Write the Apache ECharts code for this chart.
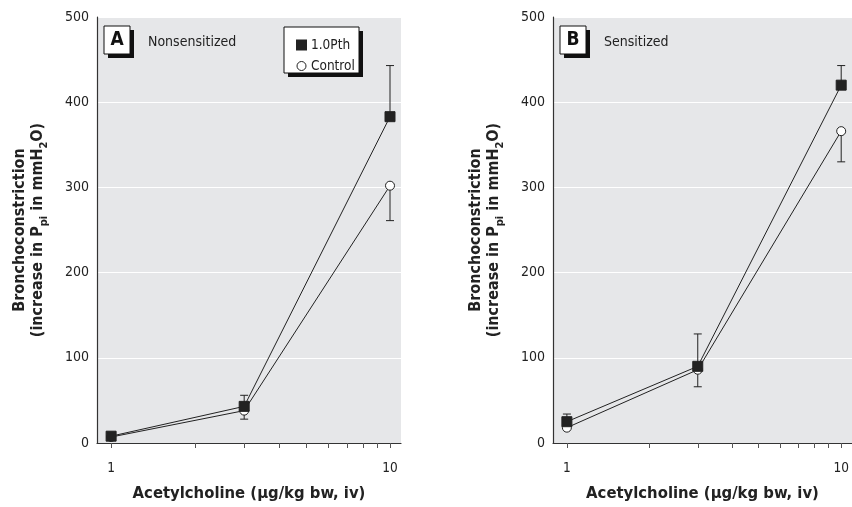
<!DOCTYPE html>
<html>
<head>
<meta charset="utf-8">
<script src="https://cdn.jsdelivr.net/npm/echarts@6/dist/echarts.min.js"></script>
<style>
  html, body { margin: 0; padding: 0; background: #fff; }
  #main { width: 852px; height: 507px; }
</style>
</head>
<body>
<div id="main"></div>
<script>
// dose (log axis)
var doses = [1, 3, 10];
var xLabelTicks = [1, 10];
var xMinorTicks = [1, 2, 3, 4, 5, 6, 7, 8, 9, 10];

// A: nonsensitized
var pthA = [8, 43, 383];
var pthAErrTop = [null, 56, 443];
var ctrlA = [7, 38, 302];
var ctrlAErrLow = [null, 28, 261];

// B: sensitized
var pthB = [25, 90, 420];
var pthBErrTop = [34, 128, 443];
var ctrlB = [18, 86, 366];
var ctrlBErrLow = [null, 66, 330];

var FONT = '"DejaVu Sans Condensed", "Liberation Sans Narrow", sans-serif';
var INK = '#222';

function pairs(vals) {
  var out = [];
  for (var i = 0; i < doses.length; i++) out.push([doses[i], vals[i]]);
  return out;
}
function errData(vals, ends) {
  var out = [];
  for (var i = 0; i < doses.length; i++) {
    if (ends[i] != null) out.push([doses[i], vals[i], ends[i]]);
  }
  return out;
}
// one-sided error bar with a small cap
function errRender(params, api) {
  var x = api.value(0);
  var p0 = api.coord([x, api.value(1)]);
  var p1 = api.coord([x, api.value(2)]);
  return {
    type: 'group',
    children: [
      { type: 'line', shape: { x1: p0[0], y1: p0[1], x2: p1[0], y2: p1[1] }, style: { stroke: INK, lineWidth: 1 } },
      { type: 'line', shape: { x1: p1[0] - 4, y1: p1[1], x2: p1[0] + 4, y2: p1[1] }, style: { stroke: INK, lineWidth: 1 } }
    ]
  };
}

function xAxis(idx) {
  return {
    type: 'log', logBase: 10, gridIndex: idx, min: 0.89, max: 10.95,
    name: 'Acetylcholine (\u03bcg/kg bw, iv)', nameLocation: 'middle', nameGap: 42,
    nameTextStyle: { fontFamily: FONT, fontSize: 16.5, fontWeight: 'bold', color: INK },
    axisLine: { lineStyle: { color: '#333', width: 1.2 } },
    axisTick: { show: true, inside: false, length: 5, customValues: xMinorTicks, lineStyle: { color: '#555' } },
    axisLabel: { customValues: xLabelTicks, margin: 18, fontFamily: FONT, fontSize: 13.5, color: INK },
    splitLine: { show: false },
    minorTick: { show: false }
  };
}
function yAxis(idx) {
  return {
    type: 'value', gridIndex: idx, min: 0, max: 500, interval: 100,
    name: '{b|Bronchoconstriction}\n{b|(increase in P}{s|pi}{b| in mmH}{s|2}{b|O)}',
    nameLocation: 'middle', nameGap: 50, nameRotate: 90,
    nameTextStyle: {
      rich: {
        b: { fontFamily: FONT, fontSize: 16, fontWeight: 'bold', color: INK, lineHeight: 18 },
        s: { fontFamily: FONT, fontSize: 11, fontWeight: 'bold', color: INK, verticalAlign: 'bottom', lineHeight: 11, padding: [0, 0, -3, 0] }
      }
    },
    axisLine: { show: true, lineStyle: { color: '#333', width: 1.2 } },
    axisTick: { show: false },
    axisLabel: { margin: 8, fontFamily: FONT, fontSize: 14, color: INK },
    splitLine: { show: true, lineStyle: { color: '#fff', width: 1 } }
  };
}
function lineSeries(name, idx, vals, sym, size, fill) {
  return {
    name: name, type: 'line', xAxisIndex: idx, yAxisIndex: idx,
    data: pairs(vals), symbol: sym, symbolSize: size, showSymbol: true,
    lineStyle: { color: INK, width: 1 },
    itemStyle: { color: fill, borderColor: INK, borderWidth: 1 },
    z: sym == 'rect' ? 5 : 4, animation: false
  };
}
function errSeries(idx, vals, ends) {
  return {
    type: 'custom', xAxisIndex: idx, yAxisIndex: idx,
    data: errData(vals, ends), renderItem: errRender, z: 3, animation: false
  };
}
function labelBox(x, y, letter, text) {
  return [
    { type: 'rect', shape: { x: x + 4, y: y + 4, width: 26, height: 28 }, style: { fill: '#111' }, z: 10 },
    { type: 'rect', shape: { x: x, y: y, width: 26, height: 28 }, style: { fill: '#fff', stroke: '#111', lineWidth: 1 }, z: 11 },
    { type: 'text', x: x + 13, y: y + 14, style: { text: letter, fontFamily: FONT, fontSize: 19, fontWeight: 'bold', fill: '#111', align: 'center', verticalAlign: 'middle' }, z: 12 },
    { type: 'text', x: x + 44, y: y + 16, style: { text: text, fontFamily: FONT, fontSize: 14, fill: INK, align: 'left', verticalAlign: 'middle' }, z: 12 }
  ];
}

var chart = echarts.init(document.getElementById('main'), null, { renderer: 'canvas' });
var option = {
  animation: false,
  grid: [
    { left: 97, top: 17, width: 304, height: 438, show: true, backgroundColor: '#e6e7e9', borderWidth: 0 },
    { left: 553, top: 17, width: 303, height: 438, show: true, backgroundColor: '#e6e7e9', borderWidth: 0 }
  ],
  xAxis: [xAxis(0), xAxis(1)],
  yAxis: [yAxis(0), yAxis(1)],
  legend: {
    left: 291, top: 33, orient: 'vertical', itemGap: 7, itemWidth: 9, itemHeight: 9,
    textStyle: { fontFamily: FONT, fontSize: 13.5, color: INK },
    lineStyle: { color: 'rgba(0,0,0,0)' },
    data: [
      { name: '1.0Pth', icon: 'rect', itemStyle: { color: INK, borderColor: INK } },
      { name: 'Control', icon: 'circle', itemStyle: { color: '#fff', borderColor: INK, borderWidth: 1 } }
    ],
    z: 12
  },
  graphic: labelBox(104, 26, 'A', 'Nonsensitized')
    .concat(labelBox(560, 26, 'B', 'Sensitized'))
    .concat([
      { type: 'rect', shape: { x: 288, y: 31, width: 75, height: 46 }, style: { fill: '#111' }, z: 10 },
      { type: 'rect', shape: { x: 284, y: 27, width: 75, height: 46 }, style: { fill: '#fff', stroke: '#111', lineWidth: 1 }, z: 11 }
    ]),
  series: [
    errSeries(0, pthA, pthAErrTop),
    errSeries(0, ctrlA, ctrlAErrLow),
    lineSeries('Control', 0, ctrlA, 'circle', 9, '#fff'),
    lineSeries('1.0Pth', 0, pthA, 'rect', 10, INK),
    errSeries(1, pthB, pthBErrTop),
    errSeries(1, ctrlB, ctrlBErrLow),
    lineSeries('Control', 1, ctrlB, 'circle', 9, '#fff'),
    lineSeries('1.0Pth', 1, pthB, 'rect', 10, INK)
  ]
};
chart.setOption(option);
</script>
</body>
</html>
